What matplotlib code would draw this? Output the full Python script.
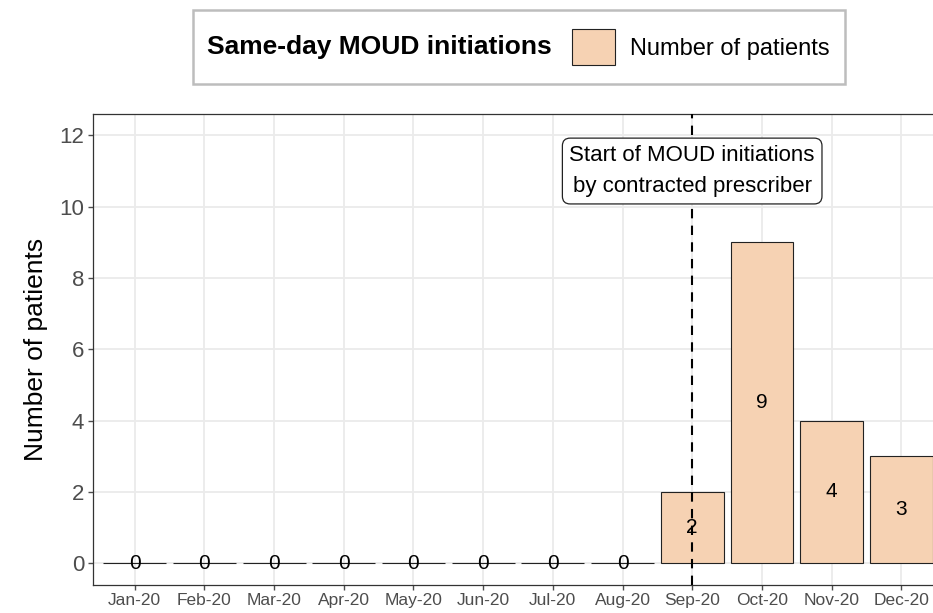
import matplotlib
matplotlib.use("Agg")
import matplotlib.pyplot as plt
from matplotlib.patches import Patch, Rectangle

plt.rcParams['font.family'] = ['Liberation Sans', 'DejaVu Sans']

months = ['Jan-20', 'Feb-20', 'Mar-20', 'Apr-20', 'May-20', 'Jun-20',
          'Jul-20', 'Aug-20', 'Sep-20', 'Oct-20', 'Nov-20', 'Dec-20']
patients = [0, 0, 0, 0, 0, 0, 0, 0, 2, 9, 4, 3]
start_month = 'Sep-20'
note = 'Start of MOUD initiations\nby contracted prescriber'
legend_title = 'Same-day MOUD initiations'
legend_label = 'Number of patients'

bar_color = '#F6D2B3'
W, H = 933, 613

fig = plt.figure(figsize=(W / 100, H / 100), dpi=100)
# panel runs a bit past the right edge, like the cropped original
ax = fig.add_axes([93 / W, (H - 584.5) / H, (943 - 93) / W, (584.5 - 114) / H])

x = list(range(len(months)))
ax.bar(x, patients, width=0.9, color=bar_color, edgecolor='#222222',
       linewidth=0.8, zorder=2)

for xi, v in zip(x, patients):
    ax.text(xi, v / 2, str(v), ha='center', va='center', fontsize=15,
            color='black', zorder=3)

xs = months.index(start_month)
ax.axvline(xs, color='black', linestyle=(0, (4.5, 3.5)), linewidth=1.5, zorder=4)
ax.text(xs, 11, note, ha='center', va='center', fontsize=16, linespacing=1.6,
        zorder=5,
        bbox=dict(boxstyle='round,pad=0.32,rounding_size=0.35', fc='white',
                  ec='#222222', lw=0.9))

ax.set_xlim(-0.6, 11.6)
ax.set_ylim(-0.6, 12.6)
ax.set_xticks(x)
ax.set_xticklabels(months)
ax.set_yticks(range(0, 13, 2))
ax.tick_params(axis='x', labelsize=12.5, colors='#4D4D4D', length=3.8,
               width=1.0, pad=2.5)
ax.tick_params(axis='y', labelsize=16, colors='#4D4D4D', length=3.8,
               width=1.0, pad=2.5)
ax.set_ylabel('Number of patients', fontsize=19, color='black', labelpad=8)

ax.grid(True, color='#EBEBEB', linewidth=1.3, zorder=0)
ax.set_axisbelow(True)
for s in ax.spines.values():
    s.set_color('#333333')
    s.set_linewidth(0.9)

# legend box across the top
fig.patches.append(Rectangle((193 / W, 1 - 84 / H), (845 - 193) / W, 74 / H,
                             transform=fig.transFigure, fill=False,
                             ec='#BDBDBD', lw=1.8))
fig.text(207 / W, 1 - 47 / H, legend_title, ha='left', va='center',
         fontsize=19, fontweight='bold')
fig.legend(handles=[Patch(facecolor=bar_color, edgecolor='#222222', linewidth=0.8)],
           labels=[legend_label], loc='center left',
           bbox_to_anchor=(572 / W, 1 - 47 / H), frameon=False, fontsize=17,
           handlelength=1.8, handleheight=1.95, handletextpad=0.65,
           borderpad=0, borderaxespad=0)

fig.savefig('out.png', dpi=100)
